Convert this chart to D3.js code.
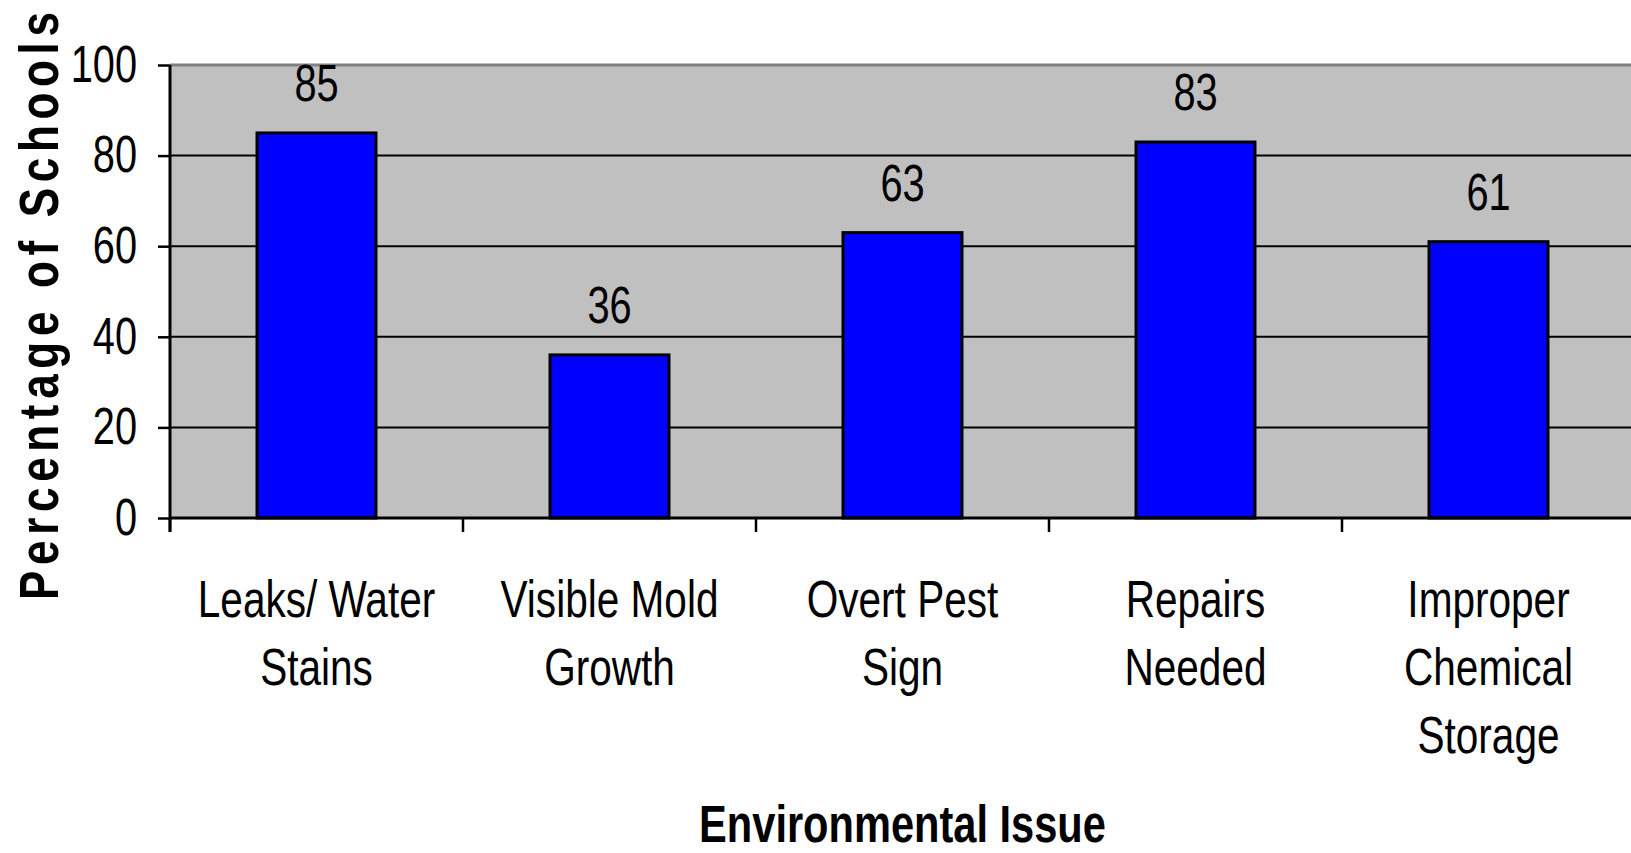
<!DOCTYPE html>
<html lang="en">
<head>
<meta charset="UTF-8">
<script src="https://d3js.org/d3.v7.min.js"></script>
<title>Environmental Issues</title>
<style>
  body { margin: 0; background: white; }
  svg { display: block; }
  text { font-family: "Liberation Sans", Arial, sans-serif; fill: black; }
</style>
</head>
<body>
<svg></svg>
<script>
// chart data
const categories = ["Leaks/ Water Stains", "Visible Mold Growth", "Overt Pest Sign", "Repairs Needed", "Improper Chemical Storage"];
const labelLines = [["Leaks/ Water", "Stains"], ["Visible Mold", "Growth"], ["Overt Pest", "Sign"], ["Repairs", "Needed"], ["Improper", "Chemical", "Storage"]];
const values = [85, 36, 63, 83, 61];
const yTicks = [0, 20, 40, 60, 80, 100];

const w = 1631, h = 853;
const mLeft = 170, mTop = 65, plotW = 1465, plotH = 453;
const sx = 0.78; // horizontal squeeze to get the narrow look

const svg = d3.select("svg").attr("width", w).attr("height", h);

const x = d3.scaleBand()
    .domain(categories)
    .range([mLeft, mLeft + plotW])
    .paddingInner(0.594)
    .paddingOuter(0.297);

const y = d3.scaleLinear().domain([0, 100]).range([mTop + plotH, mTop]);

// plot background
svg.append("rect")
   .attr("x", mLeft).attr("y", mTop)
   .attr("width", plotW).attr("height", plotH)
   .style("fill", "#c0c0c0");

// grid lines
svg.append("g")
   .selectAll("line")
   .data(yTicks.filter(d => d > 0 && d < 100))
   .enter()
   .append("line")
   .attr("x1", mLeft).attr("x2", mLeft + plotW)
   .attr("y1", d => y(d)).attr("y2", d => y(d))
   .style("stroke", "black")
   .style("stroke-width", 2);

// gray top border
svg.append("line")
   .attr("x1", mLeft).attr("x2", mLeft + plotW)
   .attr("y1", y(100)).attr("y2", y(100))
   .style("stroke", "#808080")
   .style("stroke-width", 3);

// bars
svg.selectAll("rect.bar")
   .data(values)
   .enter()
   .append("rect")
   .attr("class", "bar")
   .attr("x", (d, i) => x(categories[i]))
   .attr("y", d => y(d))
   .attr("width", x.bandwidth())
   .attr("height", d => y(0) - y(d))
   .style("fill", "#0000ff")
   .style("stroke", "black")
   .style("stroke-width", 3);

// value labels
svg.selectAll("text.val")
   .data(values)
   .enter()
   .append("text")
   .attr("class", "val")
   .attr("transform", (d, i) => "translate(" + (x(categories[i]) + x.bandwidth() / 2) + "," + (y(d) - 32) + ") scale(" + sx + ",1)")
   .attr("text-anchor", "middle")
   .style("font-size", "51px")
   .text(d => d);

// y axis
const yAxis = d3.axisLeft(y).tickValues(yTicks).tickSize(12);
const gy = svg.append("g")
   .attr("transform", "translate(" + mLeft + ",0)")
   .call(yAxis);
gy.select(".domain").remove();
gy.selectAll(".tick line").style("stroke", "black").style("stroke-width", 2.5);
gy.selectAll(".tick text")
  .attr("x", -33 / sx)
  .attr("transform", "scale(" + sx + ",1)")
  .style("font-family", "'Liberation Sans', Arial, sans-serif")
  .style("font-size", "51px")
  .style("fill", "black");
svg.append("line")
   .attr("x1", mLeft).attr("x2", mLeft)
   .attr("y1", mTop).attr("y2", y(0) + 14)
   .style("stroke", "black").style("stroke-width", 3);

// x axis
svg.append("line")
   .attr("x1", mLeft).attr("x2", mLeft + plotW)
   .attr("y1", y(0)).attr("y2", y(0))
   .style("stroke", "black").style("stroke-width", 3);

const gap = (x.step() - x.bandwidth()) / 2;
const bounds = categories.map(c => x(c) - gap).concat([x(categories[categories.length - 1]) + x.bandwidth() + gap]);
svg.append("g")
   .selectAll("line")
   .data(bounds)
   .enter()
   .append("line")
   .attr("x1", d => d).attr("x2", d => d)
   .attr("y1", y(0)).attr("y2", y(0) + 14)
   .style("stroke", "black").style("stroke-width", 2.5);

// category labels
const labels = svg.append("g")
   .selectAll("text")
   .data(labelLines)
   .enter()
   .append("text")
   .attr("transform", (d, i) => "translate(" + (x(categories[i]) + x.bandwidth() / 2) + ",0) scale(" + sx + ",1)")
   .attr("text-anchor", "middle")
   .style("font-size", "52px");
labels.each(function(lines) {
    d3.select(this).selectAll("tspan")
      .data(lines)
      .enter()
      .append("tspan")
      .attr("x", 0)
      .attr("y", (d, j) => 617 + j * 68)
      .text(d => d);
});

// axis titles
svg.append("text")
   .attr("transform", "translate(" + (mLeft + plotW / 2) + ",842) scale(0.8,1)")
   .attr("text-anchor", "middle")
   .style("font-size", "52px")
   .style("font-weight", "bold")
   .text("Environmental Issue");

svg.append("text")
   .attr("transform", "translate(58,306) rotate(-90) scale(0.8,1)")
   .attr("text-anchor", "middle")
   .attr("textLength", 588 / 0.8)
   .attr("lengthAdjust", "spacing")
   .style("font-size", "55px")
   .style("font-weight", "bold")
   .text("Percentage of Schools");
</script>
</body>
</html>
